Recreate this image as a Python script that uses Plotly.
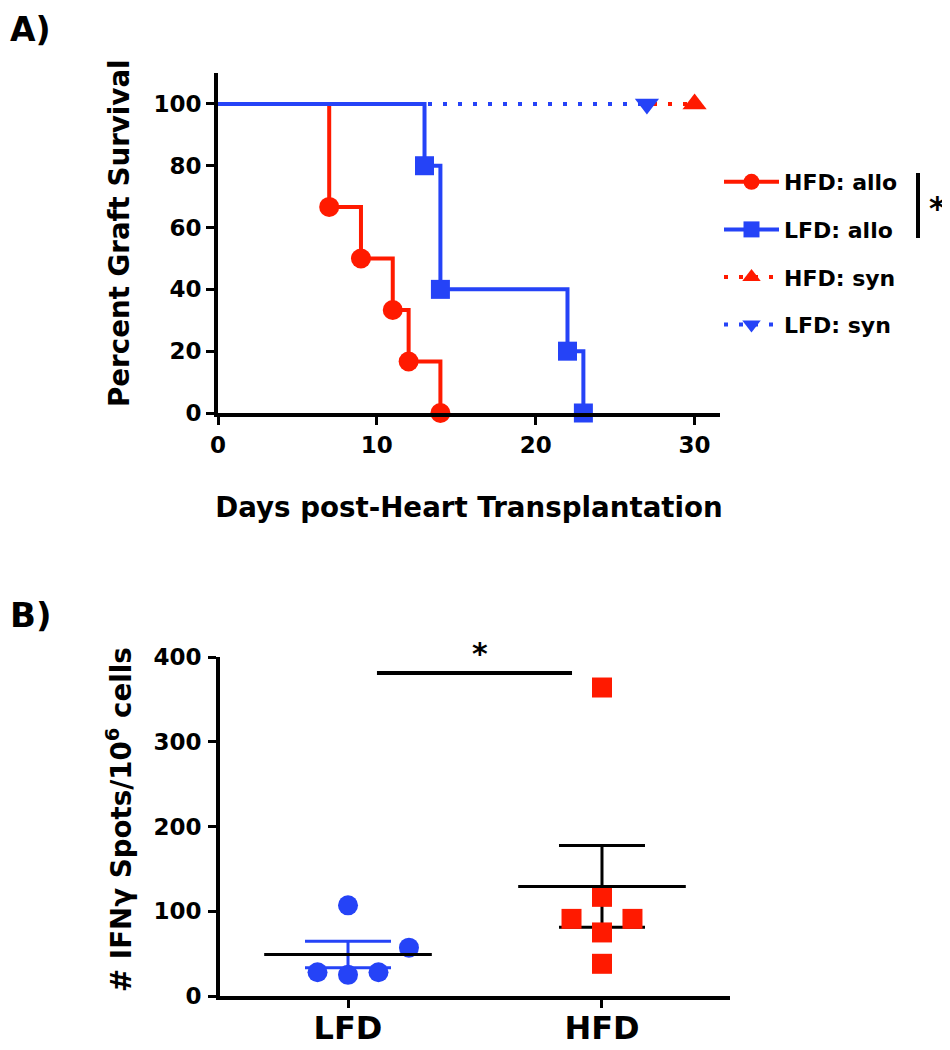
import numpy as np
import plotly.graph_objects as go

# ---------------- data ----------------
# Panel A: Kaplan-Meier graft survival (percent)
hfd_allo_days = [0, 7, 9, 11, 12, 14]
hfd_allo_surv = [100, 66.67, 50, 33.33, 16.67, 0]
lfd_allo_days = [0, 13, 14, 22, 23]
lfd_allo_surv = [100, 80, 40, 20, 0]
hfd_syn_days = [0, 30]
hfd_syn_surv = [100, 100]
lfd_syn_days = [0, 27]
lfd_syn_surv = [100, 100]

# Panel B: IFN-gamma ELISPOT
groups = ["LFD", "HFD"]
lfd_spots = [107, 28, 25, 28, 57]
hfd_spots = [364, 117, 91, 91, 75, 38]

# horizontal scatter offsets (layout only) for points in each group
lfd_offsets = [0.0, -0.12, 0.0, 0.12, 0.24]
hfd_offsets = [0.0, 0.0, -0.12, 0.12, 0.0, 0.0]

# ---------------- styles ----------------
RED = "#FF1A00"
BLUE = "#2543F7"
FONT = "DejaVu Sans"
OFF = 8            # page body margin of the browser
W, H = 950 - OFF, 1050 - OFF


def px_x(p):
    return (p - OFF) / W


def px_y(p):
    return 1 - (p - OFF) / H


fig = go.Figure()

# ---------------- Panel A traces ----------------
dot = "4px,11px"
fig.add_trace(go.Scatter(
    x=hfd_syn_days, y=hfd_syn_surv, name="HFD: syn", mode="lines+markers",
    line=dict(color=RED, width=4, dash=dot, shape="hv"),
    marker=dict(symbol="triangle-up", size=21, color=RED),
    selectedpoints=[len(hfd_syn_days) - 1], unselected=dict(marker=dict(opacity=0)),
    legendgroup="c", legendrank=3, cliponaxis=False, xaxis="x", yaxis="y"))
fig.add_trace(go.Scatter(
    x=lfd_syn_days, y=lfd_syn_surv, name="LFD: syn", mode="lines+markers",
    line=dict(color=BLUE, width=4, dash=dot, shape="hv"),
    marker=dict(symbol="triangle-down", size=21, color=BLUE),
    selectedpoints=[len(lfd_syn_days) - 1], unselected=dict(marker=dict(opacity=0)),
    legendgroup="d", legendrank=4, cliponaxis=False, xaxis="x", yaxis="y"))
fig.add_trace(go.Scatter(
    x=hfd_allo_days, y=hfd_allo_surv, name="HFD: allo", mode="lines+markers",
    line=dict(color=RED, width=4, shape="hv"),
    marker=dict(symbol="circle", size=20, color=RED),
    selectedpoints=list(range(1, len(hfd_allo_days))), unselected=dict(marker=dict(opacity=0)),
    legendgroup="a", legendrank=1, cliponaxis=False, xaxis="x", yaxis="y"))
fig.add_trace(go.Scatter(
    x=lfd_allo_days, y=lfd_allo_surv, name="LFD: allo", mode="lines+markers",
    line=dict(color=BLUE, width=4, shape="hv"),
    marker=dict(symbol="square", size=19, color=BLUE),
    selectedpoints=list(range(1, len(lfd_allo_days))), unselected=dict(marker=dict(opacity=0)),
    legendgroup="b", legendrank=2, cliponaxis=False, xaxis="x", yaxis="y"))

# ---------------- Panel B traces ----------------
mean_half = 0.33
group_data = [(lfd_spots, lfd_offsets, BLUE, "circle", BLUE),
              (hfd_spots, hfd_offsets, RED, "square", "black")]
for gi, (vals, offs, col, sym, errcol) in enumerate(group_data):
    v = np.array(vals, dtype=float)
    mean = v.mean()
    sem = v.std(ddof=1) / np.sqrt(len(v))
    # SEM error bar
    fig.add_trace(go.Scatter(
        x=[gi], y=[mean], mode="markers", marker=dict(size=1, color=errcol, opacity=0),
        error_y=dict(type="data", array=[sem], color=errcol, thickness=3, width=43),
        showlegend=False, hoverinfo="skip", xaxis="x2", yaxis="y2", cliponaxis=False))
    # points
    fig.add_trace(go.Scatter(
        x=[gi + o for o in offs], y=vals, mode="markers",
        marker=dict(symbol=sym, size=20, color=col),
        showlegend=False, xaxis="x2", yaxis="y2", cliponaxis=False, name=groups[gi]))
    # mean line
    fig.add_trace(go.Scatter(
        x=[gi - mean_half, gi + mean_half], y=[mean, mean], mode="lines",
        line=dict(color="black", width=3),
        showlegend=False, hoverinfo="skip", xaxis="x2", yaxis="y2", cliponaxis=False))

# significance bar
sig_y = 381
fig.add_shape(type="line", xref="x2", yref="y2", x0=0.114, x1=0.882, y0=sig_y, y1=sig_y,
              line=dict(color="black", width=4))
fig.add_annotation(xref="x2", yref="y2", x=0.52, y=sig_y, text="*", showarrow=False,
                   yanchor="bottom", yshift=0, font=dict(family=FONT, size=30, color="black", weight="bold"))

# ---------------- axes ----------------
axis_common = dict(showgrid=False, zeroline=False, showline=True, linecolor="black", linewidth=4,
                   ticks="outside", ticklen=8, tickwidth=3, tickcolor="black", automargin=False,
                   tickfont=dict(family=FONT, size=23, color="black", weight="bold"))
title_font = dict(family=FONT, size=27.7, color="black", weight="bold")

fig.update_layout(
    width=W, height=H, margin=dict(l=0, r=0, t=0, b=0, autoexpand=False),
    paper_bgcolor="white", plot_bgcolor="white",
    xaxis=dict(domain=[px_x(218), px_x(720)], range=[0, 31.6], tickvals=[0, 10, 20, 30],
               anchor="y", ticklabelstandoff=0,
               title=dict(text="Days post-Heart Transplantation", standoff=42, font=title_font),
               **axis_common),
    yaxis=dict(domain=[px_y(413), px_y(73)], range=[0, 110], tickvals=[0, 20, 40, 60, 80, 100],
               anchor="x", ticklabelstandoff=0, **axis_common),
    xaxis2=dict(domain=[px_x(220), px_x(730)], range=[-0.504, 1.504], tickvals=[0, 1], ticktext=groups,
                anchor="y2", ticklabelstandoff=-7,
                **{**axis_common, "tickfont": dict(family=FONT, size=32, color="black", weight="bold")}),
    yaxis2=dict(domain=[px_y(996), px_y(657)], range=[0, 400], tickvals=[0, 100, 200, 300, 400],
                anchor="x2", ticklabelstandoff=2, **axis_common),
    legend=dict(x=px_x(719), y=px_y(161), xanchor="left", yanchor="top",
                font=dict(family=FONT, size=22, color="black", weight="bold"),
                itemwidth=55, tracegroupgap=16, bgcolor="rgba(0,0,0,0)"),
    showlegend=True,
)

# y-axis titles
fig.add_annotation(xref="paper", yref="paper", x=px_x(119), y=px_y(233), text="Percent Graft Survival",
                   textangle=-90, showarrow=False, xanchor="center", yanchor="middle", font=title_font)
fig.add_annotation(xref="paper", yref="paper", x=px_x(119), y=px_y(820),
                   text="# IFNγ Spots/10<sup>6</sup> cells",
                   textangle=-90, showarrow=False, xanchor="center", yanchor="middle", font=title_font)

# significance bracket for legend
fig.add_shape(type="line", xref="paper", yref="paper", x0=px_x(918), x1=px_x(918),
              y0=px_y(173), y1=px_y(238), line=dict(color="black", width=4))
fig.add_annotation(xref="paper", yref="paper", x=px_x(937), y=px_y(208), text="*", showarrow=False,
                   xanchor="center", yanchor="middle", font=dict(family=FONT, size=32, color="black", weight="bold"))

# panel labels
fig.add_annotation(xref="paper", yref="paper", x=0, y=1, text="A)", showarrow=False,
                   xanchor="left", yanchor="top", font=dict(family=FONT, size=33, color="black", weight="bold"))
fig.add_annotation(xref="paper", yref="paper", x=0, y=px_y(615), text="B)", showarrow=False,
                   xanchor="left", yanchor="middle", font=dict(family=FONT, size=34, color="black", weight="bold"))

fig.write_html("out.html")
